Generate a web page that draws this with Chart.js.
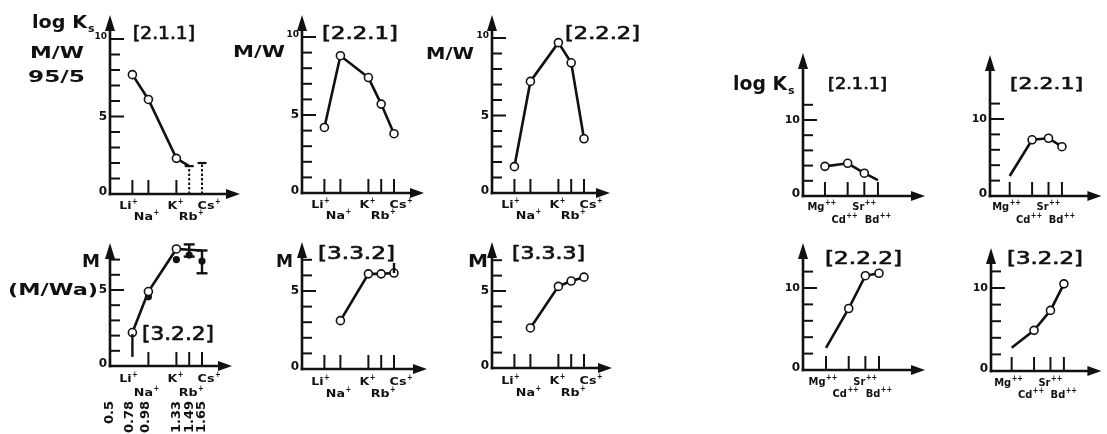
<!DOCTYPE html>
<html>
<head>
<meta charset="utf-8">
<script src="https://cdn.jsdelivr.net/npm/chart.js@4.4.1/dist/chart.umd.min.js"></script>
<style>
  html, body { margin: 0; padding: 0; background: #fff; }
  #fig { position: relative; width: 1107px; height: 434px; overflow: hidden; }
  #fig canvas { position: absolute; left: 0; top: 0; }
</style>
</head>
<body>
<div id="fig"></div>
<script>
// cations and their radii (x axis)
const monoIons = ['Li+', 'Na+', 'K+', 'Rb+', 'Cs+'];
const monoRadii = [0.78, 0.98, 1.33, 1.49, 1.65];
const radiusLabels = ['0.5', '0.78', '0.98', '1.33', '1.49', '1.65'];
const radiusValues = [0.5, 0.78, 0.98, 1.33, 1.49, 1.65];
const diIons = ['Mg++', 'Cd++', 'Sr++', 'Bd++'];
const diRadii = [0.65, 0.95, 1.17, 1.35];

// log Ks, M/W 95/5
const ks211MW = [7.7, 6.1, 2.3, 1.8, null];
const ks211Limit = [null, null, null, 1.8, 2.0];
const ks221MW = [4.2, 8.8, 7.4, 5.7, 3.8];
const ks222MW = [1.7, 7.2, 9.7, 8.4, 3.5];
// log Ks, M and M/Wa
const ks322M = [2.2, 4.9, 7.7, 7.65, 7.6];
const ks322MWa = [null, 4.55, 7.0, 7.3, 6.9];
const ks322Err = [[0.6, 2.1], null, null, [7.2, 8.0], [6.1, 7.6]];
const ks332M = [null, 3.1, 6.1, 6.1, 6.15];
const ks332Err = [null, null, null, null, [6.15, 6.8]];
const ks333M = [null, 2.6, 5.3, 5.65, 5.9];
// log Ks, divalent cations
const ks211Di = [3.9, 4.3, 3.0, 2.1];
const ks221Di = [2.6, 7.3, 7.5, 6.4];
const ks222Di = [2.7, 7.5, 11.5, 11.8];
const ks322Di = [2.8, 4.9, 7.3, 10.5];

const W = 1107, H = 434;
const ink = '#111';
const FONT = '"DejaVu Sans"';

const monoDx = [-7, -5, -4, -1, 4];
const diDx = [-9, -9, -6, -6];

function pts(radii, vals) {
    return radii.map((r, i) => ({x: r, y: vals[i]}));
}

function openLine(radii, vals, marks) {
    return {
        data: pts(radii, vals),
        borderColor: ink, borderWidth: 2.6,
        pointRadius: marks.map(m => m ? 4 : 0),
        pointBackgroundColor: '#fff', pointBorderColor: ink, pointBorderWidth: 1.6,
        tension: 0, clip: false, spanGaps: false
    };
}

function dots(radii, vals) {
    return {
        data: pts(radii, vals), showLine: false,
        pointRadius: 3.6, pointBackgroundColor: ink, pointBorderWidth: 0,
        clip: false
    };
}

function text(ctx, s, x, y, size, w, bold, thick) {
    ctx.save();
    ctx.font = (bold ? 'bold ' : '') + size + 'px ' + FONT;
    ctx.textAlign = 'left';
    ctx.textBaseline = 'alphabetic';
    const nat = ctx.measureText(s).width;
    ctx.translate(x, y);
    ctx.scale(w ? w / nat : 1, 1);
    ctx.fillText(s, 0, 0);
    if (thick) {
        ctx.lineWidth = thick;
        ctx.strokeStyle = ink;
        ctx.lineJoin = 'round';
        ctx.strokeText(s, 0, 0);
    }
    ctx.restore();
}

function ionLabel(ctx, name, cx, base, sx) {
    const m = name.match(/^([A-Za-z]+)(\+*)$/);
    ctx.save();
    ctx.font = 'bold 11px ' + FONT;
    ctx.textAlign = 'left';
    ctx.textBaseline = 'alphabetic';
    const w = ctx.measureText(m[1]).width * sx;
    ctx.save();
    ctx.translate(cx - w / 2, base);
    ctx.scale(sx, 1);
    ctx.fillText(m[1], 0, 0);
    ctx.restore();
    ctx.font = 'bold 9px ' + FONT;
    ctx.translate(cx + w / 2 + 0.5, base - 5);
    ctx.scale(0.75, 1);
    ctx.fillText(m[2], 0, 0);
    ctx.restore();
}

function seg(ctx, x1, y1, x2, y2) {
    ctx.beginPath();
    ctx.moveTo(x1, y1);
    ctx.lineTo(x2, y2);
    ctx.stroke();
}

function figurePlugin(p) {
    return {
        id: 'figure',
        beforeDatasetsDraw(chart) {
            const {ctx} = chart;
            const x = chart.scales.x, y = chart.scales.y;
            const ox = x.getPixelForValue(x.min), oy = y.getPixelForValue(0);
            const tx = x.getPixelForValue(x.max), ty = y.getPixelForValue(y.max);
            ctx.save();
            ctx.strokeStyle = ink;
            ctx.fillStyle = ink;
            // axes with arrows
            ctx.lineWidth = 2.6;
            seg(ctx, ox, oy + 1.3, ox, ty + 12);
            seg(ctx, ox - 1.3, oy, tx - 11, oy);
            ctx.beginPath();
            ctx.moveTo(ox, ty); ctx.lineTo(ox - 5, ty + 16); ctx.lineTo(ox + 5, ty + 16); ctx.closePath();
            ctx.moveTo(tx, oy); ctx.lineTo(tx - 14, oy - 5); ctx.lineTo(tx - 14, oy + 5); ctx.closePath();
            ctx.fill();
            // y ticks
            ctx.lineWidth = 2;
            for (let v = p.yStep; v <= p.yTop + 1e-6; v += p.yStep) {
                const py = y.getPixelForValue(v);
                seg(ctx, ox, py, ox + (p.yLabels.includes(v) ? 14 : 10), py);
            }
            // x ticks
            p.ticks.forEach(i => {
                const px = x.getPixelForValue(p.radii[i]);
                seg(ctx, px, oy, px, oy - 14);
            });
            // y tick labels
            ctx.textAlign = 'right';
            ctx.textBaseline = 'middle';
            p.yLabels.forEach(v => {
                const small = v >= 10 && p.smallTen;
                ctx.font = 'bold ' + (small ? 9 : (v >= 10 ? 11 : 12)) + 'px ' + FONT;
                const py = v === 0 ? oy - 2 : y.getPixelForValue(v) - (small ? 2 : 0);
                ctx.fillText(String(v), ox - 3, py);
            });
            // cation labels, staggered in two rows
            p.ions.forEach((name, i) => {
                const px = x.getPixelForValue(p.radii[i]) + p.dx[i];
                ionLabel(ctx, name, px, oy + p.rows[i % 2], p.labelScale);
            });
            // radius values, rotated
            if (p.radiusRow) {
                ctx.font = 'bold 13px ' + FONT;
                ctx.textAlign = 'right';
                ctx.textBaseline = 'middle';
                radiusLabels.forEach((s, i) => {
                    const px = x.getPixelForValue(radiusValues[i]) - (i === 1 || i === 2 ? 3 : 0);
                    ctx.save();
                    ctx.translate(px, oy + 35);
                    ctx.rotate(-Math.PI / 2);
                    ctx.fillText(s, 0, 0);
                    ctx.restore();
                });
            }
            // titles and axis names
            p.texts.forEach(t => {
                text(ctx, t.s, t.x, t.y, t.size, t.w, t.bold, t.bold ? 0 : 0.7);
                if (t.sub) text(ctx, t.sub, t.x + t.w + 1, t.y + 4, 11, 0, true);
            });
            ctx.restore();
        },
        afterDatasetsDraw(chart) {
            const {ctx} = chart;
            const x = chart.scales.x, y = chart.scales.y;
            ctx.save();
            ctx.strokeStyle = ink;
            if (p.limits) {
                p.limits.forEach((v, i) => {
                    if (v == null) return;
                    const px = x.getPixelForValue(p.radii[i]), py = y.getPixelForValue(v);
                    ctx.lineWidth = 2;
                    ctx.setLineDash([2.5, 2]);
                    seg(ctx, px, y.getPixelForValue(0), px, py);
                    ctx.setLineDash([]);
                    ctx.lineWidth = 2.2;
                    seg(ctx, px - 4.5, py, px + 4.5, py);
                });
            }
            if (p.errors) {
                p.errors.forEach((e, i) => {
                    if (!e) return;
                    const px = x.getPixelForValue(p.radii[i]);
                    const lo = y.getPixelForValue(e[0]), hi = y.getPixelForValue(e[1]);
                    ctx.lineWidth = 2.4;
                    seg(ctx, px, lo, px, hi);
                    if (p.caps && p.caps[i]) {
                        seg(ctx, px - 5.5, lo, px + 5.5, lo);
                        seg(ctx, px - 5.5, hi, px + 5.5, hi);
                    }
                });
            }
            ctx.restore();
        }
    };
}

const mono = {ions: monoIons, radii: monoRadii, ux: 80, x0: 0.5, dx: monoDx, ticks: [0, 1, 2, 3, 4],
    labelScale: 1.15};
const di = {ions: diIons, radii: diRadii, ux: 75.7, dx: diDx, ticks: [0, 1, 2, 3],
    yStep: 2, yTop: 12, yLabels: [0, 10], labelScale: 0.9};

const panels = [
    {...mono, ox: 110, oy: 194, uy: 15.5, tipX: 240, tipY: 15, yStep: 1, yTop: 10, yLabels: [0, 5, 10],
        smallTen: true, rows: [15, 26], ticks: [0, 1, 2], limits: ks211Limit,
        datasets: [openLine(monoRadii, ks211MW, [1, 1, 1, 0, 0])],
        texts: [
            {s: 'log K', sub: 's', x: 32, y: 28, size: 17, w: 55, bold: true},
            {s: 'M/W', x: 30, y: 58, size: 16, w: 54, bold: true},
            {s: '95/5', x: 28, y: 82, size: 16, w: 57, bold: true},
            {s: '[2.1.1]', x: 133, y: 39, size: 18, w: 62}
        ]},
    {...mono, ox: 302, oy: 193, uy: 15.6, tipX: 424, tipY: 15, yStep: 1, yTop: 10, yLabels: [0, 5, 10],
        smallTen: true, rows: [15, 26],
        datasets: [openLine(monoRadii, ks221MW, [1, 1, 1, 1, 1])],
        texts: [
            {s: 'M/W', x: 233, y: 57, size: 16, w: 52, bold: true},
            {s: '[2.2.1]', x: 322, y: 39, size: 18, w: 76}
        ]},
    {...mono, ox: 492, oy: 193, uy: 15.5, tipX: 610, tipY: 15, yStep: 1, yTop: 10, yLabels: [0, 5, 10],
        smallTen: true, rows: [15, 26],
        datasets: [openLine(monoRadii, ks222MW, [1, 1, 1, 1, 1])],
        texts: [
            {s: 'M/W', x: 426, y: 59, size: 16, w: 48, bold: true},
            {s: '[2.2.2]', x: 565, y: 39, size: 18, w: 75}
        ]},
    {...mono, ox: 110, oy: 366, uy: 15.2, tipX: 232, tipY: 243, yStep: 1, yTop: 7, yLabels: [0, 5],
        rows: [16, 30], ticks: [1, 2, 3, 4], errors: ks322Err, caps: [0, 0, 0, 1, 1], radiusRow: true,
        datasets: [openLine(monoRadii, ks322M, [1, 1, 1, 0, 0]), dots(monoRadii, ks322MWa)],
        texts: [
            {s: 'M', x: 82, y: 267, size: 18, w: 18, bold: true},
            {s: '(M/Wa)', x: 8, y: 295, size: 16, w: 90, bold: true},
            {s: '[3.2.2]', x: 142, y: 340, size: 20, w: 72}
        ]},
    {...mono, ox: 302, oy: 369, uy: 15.6, tipX: 427, tipY: 242, yStep: 1, yTop: 7, yLabels: [0, 5],
        rows: [16, 28], errors: ks332Err,
        datasets: [openLine(monoRadii, ks332M, [1, 1, 1, 1, 1])],
        texts: [
            {s: 'M', x: 276, y: 267, size: 18, w: 17, bold: true},
            {s: '[3.3.2]', x: 318, y: 259, size: 18, w: 77}
        ]},
    {...mono, ox: 492, oy: 368, uy: 15.4, tipX: 612, tipY: 242, yStep: 1, yTop: 7, yLabels: [0, 5],
        rows: [16, 28],
        datasets: [openLine(monoRadii, ks333M, [1, 1, 1, 1, 1])],
        texts: [
            {s: 'M', x: 468, y: 267, size: 18, w: 20, bold: true},
            {s: '[3.3.3]', x: 512, y: 259, size: 18, w: 73}
        ]},
    {...di, ox: 803, oy: 196, uy: 7.6, x0: 0.36, tipX: 925, tipY: 53, rows: [14, 27],
        datasets: [openLine(diRadii, ks211Di, [1, 1, 1, 0])],
        texts: [
            {s: 'log K', sub: 's', x: 733, y: 90, size: 19, w: 54, bold: true},
            {s: '[2.1.1]', x: 828, y: 89, size: 16, w: 59}
        ]},
    {...di, ox: 990, oy: 196, uy: 7.7, x0: 0.386, tipX: 1103, tipY: 55, rows: [14, 27],
        datasets: [openLine(diRadii, ks221Di, [0, 1, 1, 1])],
        texts: [{s: '[2.2.1]', x: 1010, y: 89, size: 16, w: 73}]},
    {...di, ox: 803, oy: 370, uy: 8.2, x0: 0.346, tipX: 925, tipY: 243, rows: [15, 27],
        datasets: [openLine(diRadii, ks222Di, [0, 1, 1, 1])],
        texts: [{s: '[2.2.2]', x: 825, y: 264, size: 17, w: 77}]},
    {...di, ox: 991, oy: 371, uy: 8.3, x0: 0.373, tipX: 1103, tipY: 248, rows: [15, 27],
        datasets: [openLine(diRadii, ks322Di, [0, 1, 1, 1])],
        texts: [{s: '[3.2.2]', x: 1007, y: 264, size: 17, w: 76}]}
];

const fig = document.getElementById('fig');
panels.forEach(p => {
    const canvas = document.createElement('canvas');
    canvas.width = W;
    canvas.height = H;
    canvas.style.width = W + 'px';
    canvas.style.height = H + 'px';
    fig.appendChild(canvas);
    new Chart(canvas, {
        type: 'line',
        data: {datasets: p.datasets},
        options: {
            responsive: false,
            animation: false,
            devicePixelRatio: 1,
            events: [],
            layout: {padding: {left: p.ox, top: p.tipY, right: W - p.tipX, bottom: H - p.oy}},
            scales: {
                x: {type: 'linear', display: false, min: p.x0, max: p.x0 + (p.tipX - p.ox) / p.ux},
                y: {type: 'linear', display: false, min: 0, max: (p.oy - p.tipY) / p.uy}
            },
            plugins: {legend: {display: false}, tooltip: {enabled: false}}
        },
        plugins: [figurePlugin(p)]
    });
});
</script>
</body>
</html>
